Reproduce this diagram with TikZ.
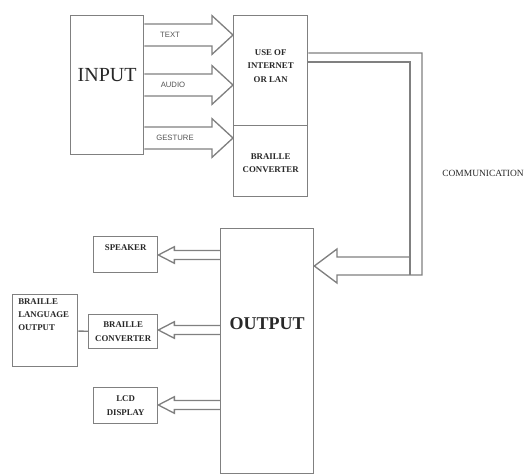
\documentclass[tikz,border=0pt]{standalone}
\usepackage{fontspec}
\setmainfont{Liberation Serif}
\newfontfamily\labelsans{Liberation Sans}
\usepackage{tikz}
\usetikzlibrary{calc}

\definecolor{linegray}{RGB}{128,128,128}
\definecolor{inkgray}{RGB}{40,40,40}

\tikzset{
  line/.style={draw=linegray, line width=1pt, line join=miter},
  box/.style={line, inner sep=0pt, anchor=north west, align=center},
  boxtxt/.style={font=\fontsize{6.6}{10.2}\selectfont\bfseries, text=inkgray, align=center, inner sep=0pt},
  arrowtxt/.style={font=\labelsans\fontsize{5.8}{7}\selectfont, text=inkgray!80, inner sep=0pt},
  hollow/.style args={#1/#2/#3}{line,
    to path={let \p1=(\tikztostart), \p2=(\tikztotarget), \n1={sign(\x2-\x1)} in
      (\x1,\y1+#1) -- (\x2-\n1*#3,\y1+#1) -- (\x2-\n1*#3,\y1+#2) -- (\x2,\y2)
      -- (\x2-\n1*#3,\y1-#2) -- (\x2-\n1*#3,\y1-#1) -- (\x1,\y1-#1)}},
  bigarrow/.style={hollow=8.25pt/14.5pt/15.75pt},
  smallarrow/.style={hollow=3.4pt/6.2pt/12pt}
}

\begin{document}
\begin{tikzpicture}[x=0.75pt,y=0.75pt,yscale=-1,xscale=1]
  \useasboundingbox (0,0) rectangle (527,475);

  % input side
  \node[box, minimum width=54.75pt, minimum height=104.25pt] (input) at (70,15) {};
  \node[font=\fontsize{15}{18}\selectfont, text=inkgray, inner sep=0pt] (inputlbl) at (input.north |- 0,75) {INPUT};

  \node[box, minimum width=55.5pt, minimum height=82.5pt] (net) at (233,15) {};
  \node[boxtxt] (netlbl) at (net.center |- 0,66) {USE OF\\INTERNET\\OR LAN};
  \node[box, minimum width=55.5pt, minimum height=53.25pt] (bconv) at (233,125) {};
  \node[boxtxt] (bconvlbl) at (bconv.center |- 0,163) {BRAILLE\\CONVERTER};

  \draw[bigarrow] (input.east |- 0,35) to (net.west |- 0,35);
  \draw[bigarrow] (input.east |- 0,85) to (net.west |- 0,85);
  \draw[bigarrow] (input.east |- 0,138) to (bconv.west |- 0,138);
  \node[arrowtxt] (textlbl) at (170,35) {TEXT};
  \node[arrowtxt] (audiolbl) at (173,85) {AUDIO};
  \node[arrowtxt] (gesturelbl) at (175,138) {GESTURE};

  % output side
  \node[box, minimum width=69.75pt, minimum height=183.75pt] (output) at (220,228) {};
  \node[font=\fontsize{13.5}{16}\selectfont\bfseries, text=inkgray, inner sep=0pt] (outputlbl) at (output.north |- 0,324) {OUTPUT};

  \node[box, minimum width=48pt, minimum height=27pt] (speaker) at (93,236) {};
  \node[boxtxt] (speakerlbl) at (speaker.north |- 0,248) {SPEAKER};
  \node[box, minimum width=51.75pt, minimum height=25.5pt] (bconvout) at (88,314) {};
  \node[boxtxt] (bconvoutlbl) at (bconvout.center) {BRAILLE\\CONVERTER};
  \node[box, minimum width=48pt, minimum height=27pt] (lcd) at (93,387) {};
  \node[boxtxt] (lcdlbl) at (lcd.center) {LCD\\DISPLAY};
  \node[box, minimum width=48.75pt, minimum height=54pt] (brailleout) at (12,294) {};
  \node[boxtxt, align=left, anchor=north west, font=\fontsize{6.6}{9.75}\selectfont\bfseries] (brailleoutlbl) at (18,298) {BRAILLE\\LANGUAGE\\OUTPUT};

  \draw[smallarrow] (output.west |- 0,255) to (speaker.east |- 0,255);
  \draw[smallarrow] (output.west |- 0,330) to (bconvout.east |- 0,330);
  \draw[smallarrow] (output.west |- 0,405) to (lcd.east |- 0,405);
  \draw[line] (brailleout) -- (bconvout);

  % communication link
  \draw[line] (net.east |- 0,53) -- (422,53) -- (422,275) -- (337,275) -- (337,283)
    -- (output.east |- 0,266) -- (337,249) -- (337,257) -- (410,257);
  \draw[line] (net.east |- 0,62) -- (410,62) -- (410,275);
  \node[font=\fontsize{7.1}{9}\selectfont, text=inkgray, inner sep=0pt, anchor=west] (commlbl) at (442,173) {COMMUNICATION};
\end{tikzpicture}
\end{document}
